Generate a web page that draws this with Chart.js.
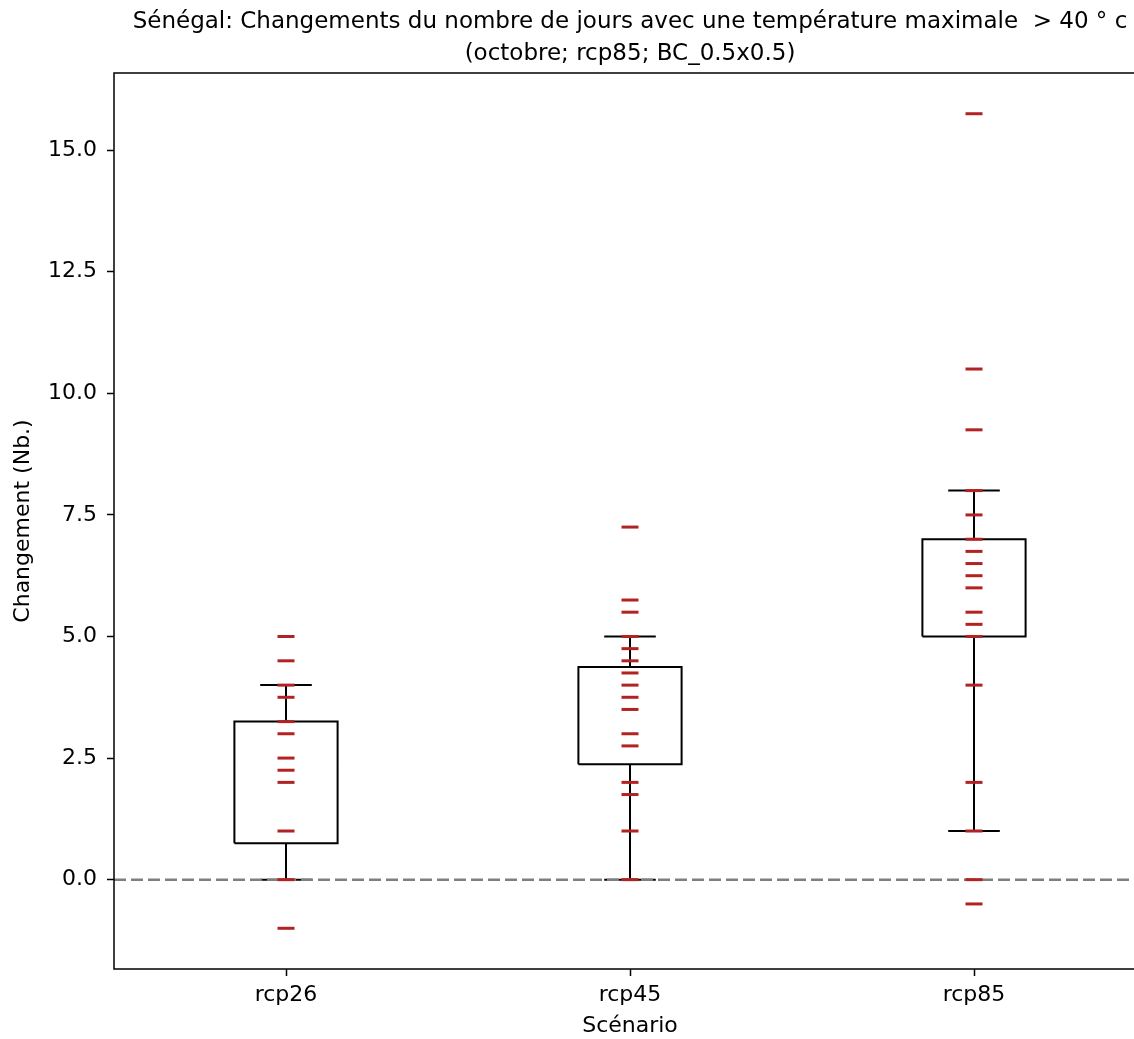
<!DOCTYPE html>
<html><head><meta charset="utf-8">
<script src="https://cdn.jsdelivr.net/npm/chart.js@4.4.0/dist/chart.umd.min.js"></script>
<style>
html,body{margin:0;padding:0;background:#fff;overflow:hidden;}
#wrap{width:1260px;height:1039px;position:relative;}
</style></head><body>
<div id="wrap"><canvas id="c" width="1260" height="1039"></canvas></div>
<script>
const categories = ['rcp26', 'rcp45', 'rcp85'];
const valuesRcp26 = [5.0, 4.5, 4.0, 3.75, 3.25, 3.0, 2.5, 2.25, 2.0, 1.0, 0.0, -1.0];
const valuesRcp45 = [7.25, 5.75, 5.5, 5.0, 4.75, 4.5, 4.25, 4.0, 3.75, 3.5, 3.0, 2.75, 2.0, 1.75, 1.0, 0.0];
const valuesRcp85 = [15.75, 10.5, 9.25, 8.0, 7.5, 7.0, 6.75, 6.5, 6.25, 6.0, 5.5, 5.25, 5.0, 4.0, 2.0, 1.0, 0.0, -0.5];
const q1 = [0.75, 2.375, 5.0];
const q3 = [3.25, 4.375, 7.0];
const whiskerLow = [0.0, 0.0, 1.0];
const whiskerHigh = [4.0, 5.0, 8.0];
const yTicks = [0, 2.5, 5, 7.5, 10, 12.5, 15];
const yMin = -1.8375, yMax = 16.5875;

const allValues = [valuesRcp26, valuesRcp45, valuesRcp85];
const boxW = 0.3, capW = 0.15;
const FONT = 'DejaVu Sans';

const boxPts = [], whiskPts = [], markPts = [];
categories.forEach((c, i) => {
  const x = i + 1;
  boxPts.push({x: x - boxW/2, y: q1[i]}, {x: x + boxW/2, y: q1[i]}, {x: x + boxW/2, y: q3[i]},
              {x: x - boxW/2, y: q3[i]}, {x: x - boxW/2, y: q1[i]}, {x: x, y: null});
  whiskPts.push({x: x, y: q3[i]}, {x: x, y: whiskerHigh[i]}, {x: x, y: null},
                {x: x - capW/2, y: whiskerHigh[i]}, {x: x + capW/2, y: whiskerHigh[i]}, {x: x, y: null},
                {x: x, y: q1[i]}, {x: x, y: whiskerLow[i]}, {x: x, y: null},
                {x: x - capW/2, y: whiskerLow[i]}, {x: x + capW/2, y: whiskerLow[i]}, {x: x, y: null});
  allValues[i].forEach(v => markPts.push({x: x, y: v}));
});

const framePlugin = {
  id: 'frame',
  afterDraw(chart) {
    const a = chart.chartArea, ctx = chart.ctx;
    ctx.save();
    ctx.strokeStyle = '#000';
    ctx.lineWidth = 1.5;
    ctx.strokeRect(a.left, a.top, a.right - a.left, a.bottom - a.top);
    ctx.restore();
  }
};

new Chart(document.getElementById('c'), {
  type: 'line',
  data: {
    datasets: [
      {data: markPts, showLine: false, pointStyle: 'line', pointRadius: 8.5, pointBorderWidth: 3,
       pointBorderColor: '#b22222', pointBackgroundColor: '#b22222', order: 0},
      {data: [{x: 0.5, y: 0}, {x: 3.5, y: 0}], borderColor: '#7f7f7f', borderWidth: 2.5,
       borderDash: [12, 5], pointRadius: 0, order: 1},
      {data: whiskPts, borderColor: '#000', borderWidth: 2, pointRadius: 0, spanGaps: false, order: 2},
      {data: boxPts, borderColor: '#000', borderWidth: 2, pointRadius: 0, spanGaps: false, order: 3}
    ]
  },
  options: {
    responsive: false,
    animation: false,
    devicePixelRatio: 1,
    layout: {padding: {left: 0, right: 114, top: 0, bottom: 0}},
    elements: {line: {tension: 0}},
    plugins: {
      legend: {display: false},
      tooltip: {enabled: false},
      title: {
        display: true,
        fullSize: false,
        text: ['Sénégal: Changements du nombre de jours avec une température maximale  > 40 ° c',
               '(octobre; rcp85; BC_0.5x0.5)'],
        color: '#000',
        font: {family: FONT, size: 23, weight: 'normal', lineHeight: 1.4},
        padding: {top: 6, bottom: 2.6}
      }
    },
    scales: {
      x: {
        type: 'linear', min: 0.5, max: 3.5,
        afterBuildTicks: s => { s.ticks = categories.map((c, i) => ({value: i + 1})); },
        afterFit: s => { s.height = 70; },
        grid: {drawOnChartArea: false, drawTicks: true, tickLength: 7, tickColor: '#000', tickWidth: 1.5},
        border: {display: false},
        ticks: {color: '#000', font: {family: FONT, size: 22}, padding: 6,
                callback: v => categories[Math.round(v) - 1] || ''},
        title: {display: true, text: 'Scénario', color: '#000', font: {family: FONT, size: 22},
                padding: {top: 0, bottom: 0}}
      },
      y: {
        type: 'linear', min: yMin, max: yMax,
        afterBuildTicks: s => { s.ticks = yTicks.map(v => ({value: v})); },
        afterFit: s => { s.width = 114; },
        grid: {drawOnChartArea: false, drawTicks: true, tickLength: 7, tickColor: '#000', tickWidth: 1.5},
        border: {display: false},
        ticks: {color: '#000', font: {family: FONT, size: 22}, padding: 10,
                callback: v => Number(v).toFixed(1)},
        title: {display: true, text: 'Changement (Nb.)', color: '#000', font: {family: FONT, size: 22},
                padding: {top: 10, bottom: 0}}
      }
    }
  },
  plugins: [framePlugin]
});
</script>
</body></html>
